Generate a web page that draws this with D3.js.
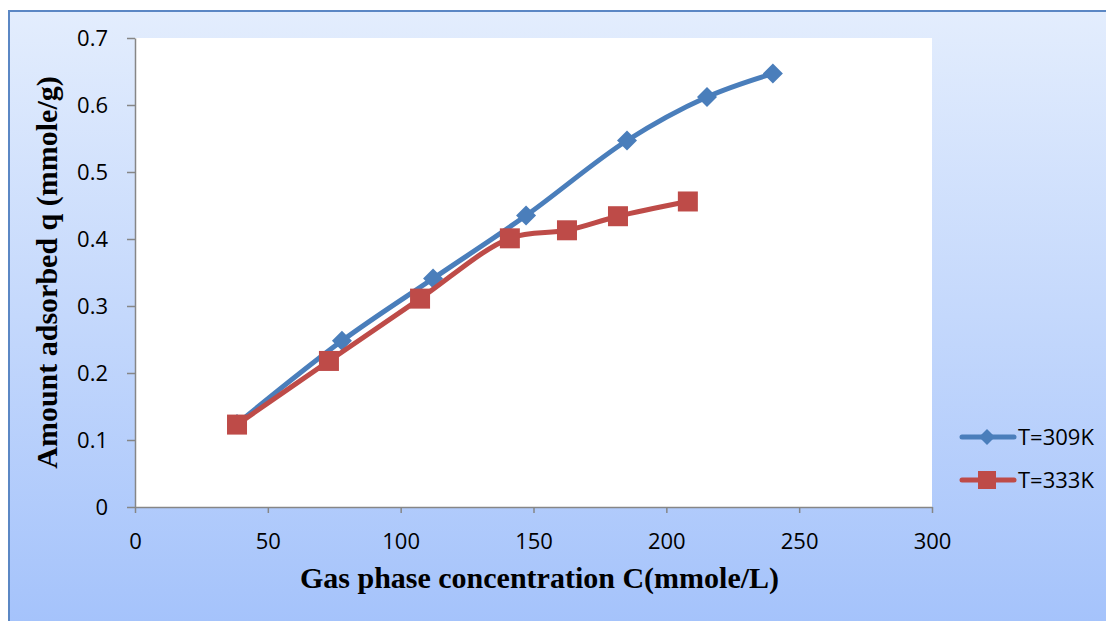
<!DOCTYPE html>
<html>
<head>
<meta charset="utf-8">
<script src="https://cdn.jsdelivr.net/npm/d3@7"></script>
<style>
  html, body { margin: 0; padding: 0; background: #ffffff; }
  svg { display: block; }
</style>
</head>
<body>
<svg id="chart" width="1106" height="621"></svg>
<script>
// Adsorption isotherms: amount adsorbed vs gas phase concentration
const conc309 = [38.4, 77.9, 112.2, 147.2, 185.2, 215.3, 240.1];
const q309    = [0.124, 0.248, 0.341, 0.435, 0.547, 0.612, 0.647];
const conc333 = [38.4, 73.0, 107.3, 141.1, 162.6, 181.8, 208.1];
const q333    = [0.123, 0.218, 0.311, 0.401, 0.413, 0.434, 0.456];
const seriesNames = ["T=309K", "T=333K"];
const xTicks = [0, 50, 100, 150, 200, 250, 300];
const yTicks = [0, 0.1, 0.2, 0.3, 0.4, 0.5, 0.6, 0.7];

const svg = d3.select("#chart");
const W = 1106, H = 621;

// background gradient panel
const defs = svg.append("defs");
const grad = defs.append("linearGradient").attr("id", "bg").attr("x1", 0).attr("y1", 0).attr("x2", 0).attr("y2", 1);
grad.append("stop").attr("offset", "0%").attr("stop-color", "#e3edfd");
grad.append("stop").attr("offset", "100%").attr("stop-color", "#a5c3fb");

svg.append("rect").attr("x", 9).attr("y", 11).attr("width", W - 9).attr("height", H - 11)
  .attr("fill", "url(#bg)");
svg.append("path").attr("d", `M9,${H} L9,11 L${W},11`)
  .attr("fill", "none").attr("stroke", "#5b87c4").attr("stroke-width", 2);

const plot = { left: 135, right: 932, top: 38, bottom: 507 };
const x = d3.scaleLinear().domain([0, 300]).range([plot.left, plot.right]);
const y = d3.scaleLinear().domain([0, 0.7]).range([plot.bottom, plot.top]);

svg.append("rect").attr("x", plot.left).attr("y", plot.top)
  .attr("width", plot.right - plot.left).attr("height", plot.bottom - plot.top)
  .attr("fill", "#ffffff");

const tickFont = "'Open Sans', 'Liberation Sans', sans-serif";
const titleFont = "'Liberation Serif', 'Times New Roman', serif";

// y axis
const yAxis = svg.append("g").attr("transform", `translate(${plot.left},0)`)
  .call(d3.axisLeft(y).tickValues(yTicks).tickSize(8).tickSizeOuter(0).tickPadding(19)
    .tickFormat(d => d === 0 ? "0" : d3.format(".1f")(d)));
// x axis
const xAxis = svg.append("g").attr("transform", `translate(0,${plot.bottom})`)
  .call(d3.axisBottom(x).tickValues(xTicks).tickSize(6).tickSizeOuter(0).tickPadding(20));

[yAxis, xAxis].forEach(g => {
  g.select(".domain").attr("stroke", "#868686").attr("stroke-width", 1.5);
  g.selectAll(".tick line").attr("stroke", "#868686").attr("stroke-width", 1.5);
  g.selectAll(".tick text").attr("fill", "#000").attr("font-family", tickFont).attr("font-size", 22);
});

// axis titles
svg.append("text").attr("x", (plot.left + plot.right) / 2 + 6).attr("y", 588)
  .attr("text-anchor", "middle").attr("font-family", titleFont)
  .attr("font-weight", "bold").attr("font-size", 30).attr("fill", "#000")
  .text("Gas phase concentration C(mmole/L)");
svg.append("text").attr("transform", `translate(57,${(plot.top + plot.bottom) / 2}) rotate(-90)`)
  .attr("text-anchor", "middle").attr("font-family", titleFont)
  .attr("font-weight", "bold").attr("font-size", 30).attr("fill", "#000")
  .text("Amount adsorbed q (mmole/g)");

const series = [
  { name: seriesNames[0], xs: conc309, ys: q309, color: "#4a7ebb", marker: "diamond" },
  { name: seriesNames[1], xs: conc333, ys: q333, color: "#be4b48", marker: "square" }
];

const line = d3.line().x(d => x(d[0])).y(d => y(d[1])).curve(d3.curveCatmullRom.alpha(0.5));

function drawMarker(g, type, cx, cy, color, size) {
  if (type === "diamond") {
    const r = size / 2;
    g.append("path").attr("d", `M${cx},${cy - r} L${cx + r},${cy} L${cx},${cy + r} L${cx - r},${cy} Z`)
      .attr("fill", color);
  } else {
    g.append("rect").attr("x", cx - size / 2).attr("y", cy - size / 2).attr("width", size).attr("height", size)
      .attr("fill", color);
  }
}

series.forEach(s => {
  const pts = s.xs.map((v, i) => [v, s.ys[i]]);
  const g = svg.append("g");
  g.append("path").attr("d", line(pts)).attr("fill", "none")
    .attr("stroke", s.color).attr("stroke-width", 5).attr("stroke-linejoin", "round").attr("stroke-linecap", "round");
  pts.forEach(p => drawMarker(g, s.marker, x(p[0]), y(p[1]), s.color, s.marker === "diamond" ? 20 : 20));
});

// legend
const legend = svg.append("g");
series.forEach((s, i) => {
  const ly = 437 + i * 43;
  legend.append("line").attr("x1", 962).attr("x2", 1014).attr("y1", ly).attr("y2", ly)
    .attr("stroke", s.color).attr("stroke-width", 5).attr("stroke-linecap", "round");
  drawMarker(legend, s.marker, 987, ly, s.color, s.marker === "diamond" ? 16 : 18);
  legend.append("text").attr("x", 1018).attr("y", ly + 8).attr("font-family", tickFont)
    .attr("font-size", 22).attr("fill", "#000").text(s.name);
});
</script>
</body>
</html>
